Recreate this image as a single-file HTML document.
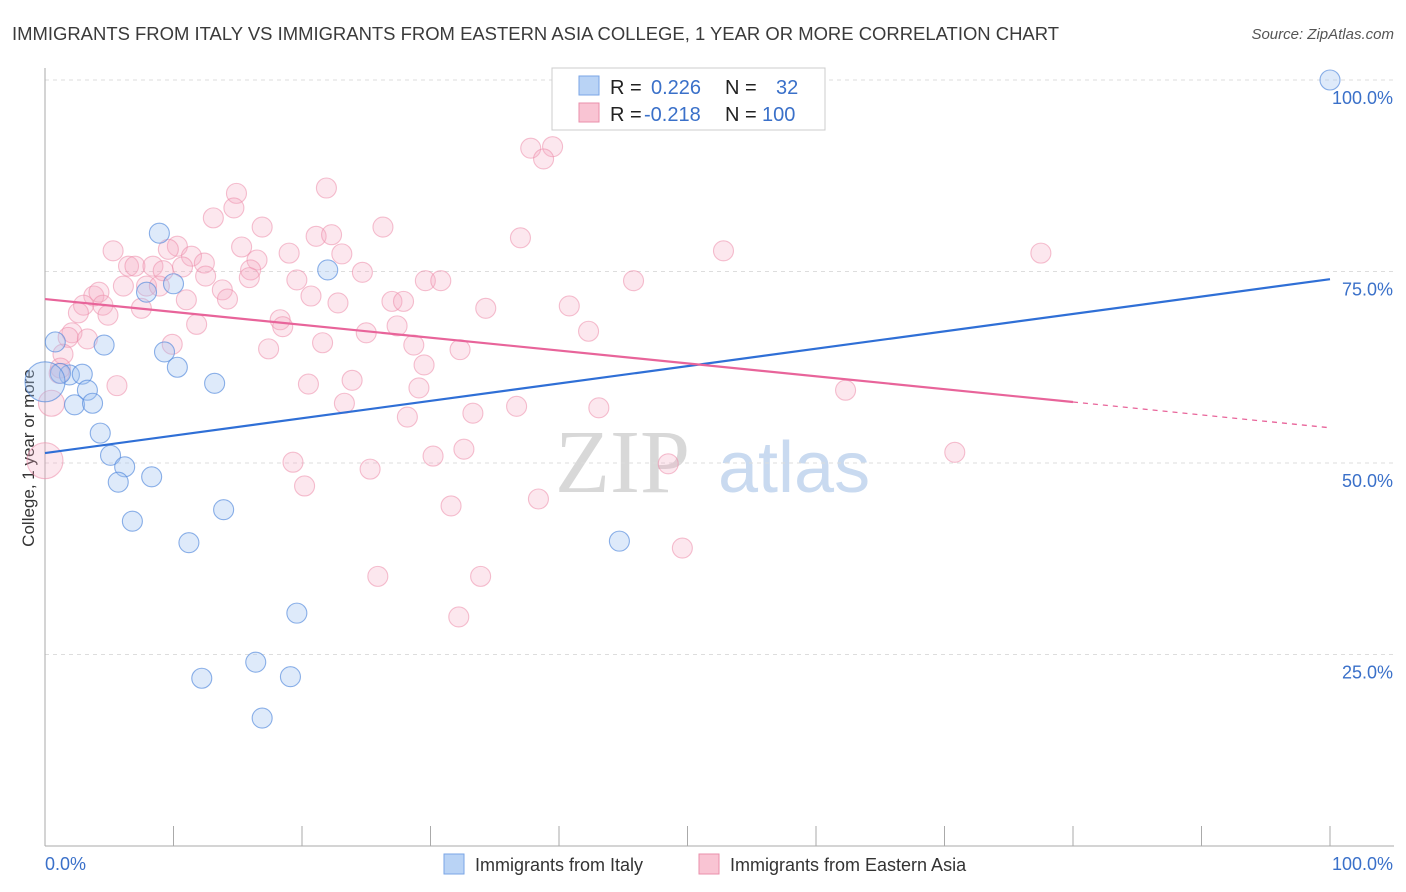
<!DOCTYPE html>
<html><head><meta charset="utf-8"><style>
body{margin:0;background:#fff;font-family:"Liberation Sans",sans-serif}
svg{display:block}
</style></head><body>
<svg id="chart" width="1406" height="892">
<text x="12" y="40" font-size="18" fill="#3a3a3a" textLength="1047" lengthAdjust="spacingAndGlyphs">IMMIGRANTS FROM ITALY VS IMMIGRANTS FROM EASTERN ASIA COLLEGE, 1 YEAR OR MORE CORRELATION CHART</text>
<text x="1394" y="39" font-size="15" fill="#555" text-anchor="end" font-style="italic">Source: ZipAtlas.com</text>
<text x="555" y="492" font-size="90" fill="#d8d8d8" font-family="Liberation Serif,serif">ZIP</text>
<text x="718" y="492" font-size="72" fill="#c9daf0">atlas</text>
<text transform="translate(34,458) rotate(-90)" font-size="17" fill="#333" text-anchor="middle">College, 1 year or more</text>
<g id="grid"></g><g id="axes"></g><g id="pts"></g><g id="lines"></g>
<g>
<rect x="552" y="68" width="273" height="62" fill="#fff" stroke="#ccc"/>
<rect x="579" y="76" width="20" height="19" fill="#b9d3f5" stroke="#7aa6e6"/>
<rect x="579" y="103" width="20" height="19" fill="#f9c4d3" stroke="#ea8fab"/>
<text x="610" y="94" font-size="20" fill="#222">R = <tspan x="651" fill="#3a70c9">0.226</tspan><tspan x="725" fill="#222">N =</tspan><tspan x="776" fill="#3a70c9">32</tspan></text>
<text x="610" y="121" font-size="20" fill="#222">R = <tspan x="644" fill="#3a70c9">-0.218</tspan><tspan x="725" fill="#222">N =</tspan><tspan x="762" fill="#3a70c9">100</tspan></text>
</g>
<g>
<rect x="444" y="854" width="20" height="20" fill="#b9d3f5" stroke="#7aa6e6"/>
<text x="475" y="871" font-size="18" fill="#333">Immigrants from Italy</text>
<rect x="699" y="854" width="20" height="20" fill="#f9c4d3" stroke="#ea8fab"/>
<text x="730" y="871" font-size="18" fill="#333">Immigrants from Eastern Asia</text>
</g>
</svg>
<script>
const yTicks=[25,50,75,100];
const yTickLabels=["25.0%","50.0%","75.0%","100.0%"];
const xTickLabels=["0.0%","100.0%"];
const italyX=[100,8.9,22.0,10.0,7.9,0.8,4.6,9.3,10.3,1.9,2.9,1.2,13.2,3.3,2.3,3.7,4.3,5.1,6.2,5.7,8.3,6.8,13.9,11.2,44.7,19.6,16.4,12.2,19.1,16.9,0];
const italyY=[100,80.0,75.2,73.4,72.3,65.8,65.4,64.5,62.5,61.5,61.6,61.7,60.4,59.5,57.6,57.8,53.9,51.0,49.5,47.5,48.2,42.4,43.9,39.6,39.8,30.4,24.0,21.9,22.1,16.7,60.6];
const italyR=[10,10,10,10,10,10,10,10,10,10,10,10,10,10,10,10,10,10,10,10,10,10,10,10,10,10,10,10,10,10,20];
const asiaX=[77.5,52.8,37.8,39.5,38.8,21.9,14.9,14.7,13.1,16.9,26.3,21.1,22.3,37.0,5.3,10.3,9.6,15.3,19.0,23.1,11.4,16.5,6.5,7.0,8.4,12.4,10.7,9.2,16.0,24.7,15.9,19.6,29.6,30.8,45.8,6.1,7.9,8.9,13.8,12.5,3.8,4.2,11.0,14.2,20.7,27.0,27.9,22.8,34.3,40.8,3.0,4.5,7.5,2.6,4.9,18.3,11.8,27.4,42.3,18.5,25.0,2.1,1.8,3.3,9.9,21.6,28.7,17.4,32.3,1.4,1.2,1.1,5.6,20.5,23.9,29.5,29.1,62.3,23.3,36.7,43.1,33.3,28.2,0.5,19.3,30.2,32.6,25.3,48.5,70.8,20.2,38.4,31.6,49.6,25.9,33.9,32.2,0];
const asiaY=[77.4,77.7,91.1,91.3,89.7,85.9,85.2,83.3,82.0,80.8,80.8,79.6,79.8,79.4,77.7,78.3,77.9,78.2,77.4,77.3,77.0,76.5,75.7,75.7,75.7,76.1,75.6,75.1,75.2,74.9,74.2,73.9,73.8,73.8,73.8,73.1,73.1,73.1,72.6,74.4,71.8,72.3,71.3,71.4,71.8,71.1,71.1,70.9,70.2,70.5,70.6,70.6,70.2,69.6,69.3,68.7,68.1,67.9,67.2,67.8,67.0,67.0,66.4,66.2,65.5,65.7,65.4,64.9,64.8,64.2,62.4,61.7,60.1,60.3,60.8,62.8,59.8,59.5,57.8,57.4,57.2,56.5,56.0,57.8,50.1,50.9,51.8,49.2,49.9,51.4,47.0,45.3,44.4,38.9,35.2,35.2,29.9,50.3];
const italyTrend=[51.3,74.0];
const asiaTrend=[71.4,54.6];
const asiaSolidEnd=80;

const X0=45,X1=1330,Y0=846,Y100=80;
const sx=v=>X0+(X1-X0)*v/100;
const sy=v=>Y0-(Y0-Y100)*v/100;
const NS="http://www.w3.org/2000/svg";
function mk(tag,attrs,parent){const e=document.createElementNS(NS,tag);for(const k in attrs)e.setAttribute(k,attrs[k]);parent.appendChild(e);return e;}
const grid=document.getElementById('grid'),axes=document.getElementById('axes'),pts=document.getElementById('pts'),lines=document.getElementById('lines');
yTicks.forEach((t,i)=>{
  const l=mk('line',{x1:X0,x2:1394,y1:sy(t),y2:sy(t),stroke:'#ddd','stroke-dasharray':'4,4'},grid);
  
  
  const tx=mk('text',{x:1393,y:sy(t)+24,'font-size':18,fill:'#3a70c9','text-anchor':'end'},axes);
  tx.textContent=yTickLabels[i];
  
  
});
const ya=mk('line',{x1:X0,x2:X0,y1:68,y2:Y0,stroke:'#aaa'},axes);


const xa=mk('line',{x1:X0,x2:1394,y1:Y0,y2:Y0,stroke:'#aaa'},axes);


for(let i=0;i<=10;i++){
  const t=mk('line',{x1:sx(i*10),x2:sx(i*10),y1:826,y2:Y0,stroke:'#aaa'},axes);
  
  
}
const xl0=mk('text',{x:45,y:870,'font-size':18,fill:'#3a70c9'},axes);xl0.textContent=xTickLabels[0];


const xl1=mk('text',{x:1393,y:870,'font-size':18,fill:'#3a70c9','text-anchor':'end'},axes);xl1.textContent=xTickLabels[1];


asiaX.forEach((x,i)=>{
  const c=mk('circle',{cx:sx(x),cy:sy(asiaY[i]),r:(i===asiaX.length-1?18:(i===83?13:10)),fill:'rgba(246,170,195,0.28)',stroke:'rgba(236,140,170,0.55)','stroke-width':1.1},pts);
  
  
});
italyX.forEach((x,i)=>{
  const c=mk('circle',{cx:sx(x),cy:sy(italyY[i]),r:italyR[i],fill:'rgba(160,196,242,0.35)',stroke:'rgba(80,135,220,0.65)','stroke-width':1.1},pts);
  
  
});
const bl=mk('line',{x1:sx(0),y1:sy(italyTrend[0]),x2:sx(100),y2:sy(italyTrend[1]),stroke:'#2f6fd6','stroke-width':2.2},lines);


const ym=asiaTrend[0]+(asiaTrend[1]-asiaTrend[0])*asiaSolidEnd/100;
const pl=mk('line',{x1:sx(0),y1:sy(asiaTrend[0]),x2:sx(asiaSolidEnd),y2:sy(ym),stroke:'#e8649a','stroke-width':2.2},lines);


const pd=mk('line',{x1:sx(asiaSolidEnd),y1:sy(ym),x2:sx(100),y2:sy(asiaTrend[1]),stroke:'#e8649a','stroke-width':1.3,'stroke-dasharray':'5,5'},lines);


</script>
</body></html>
